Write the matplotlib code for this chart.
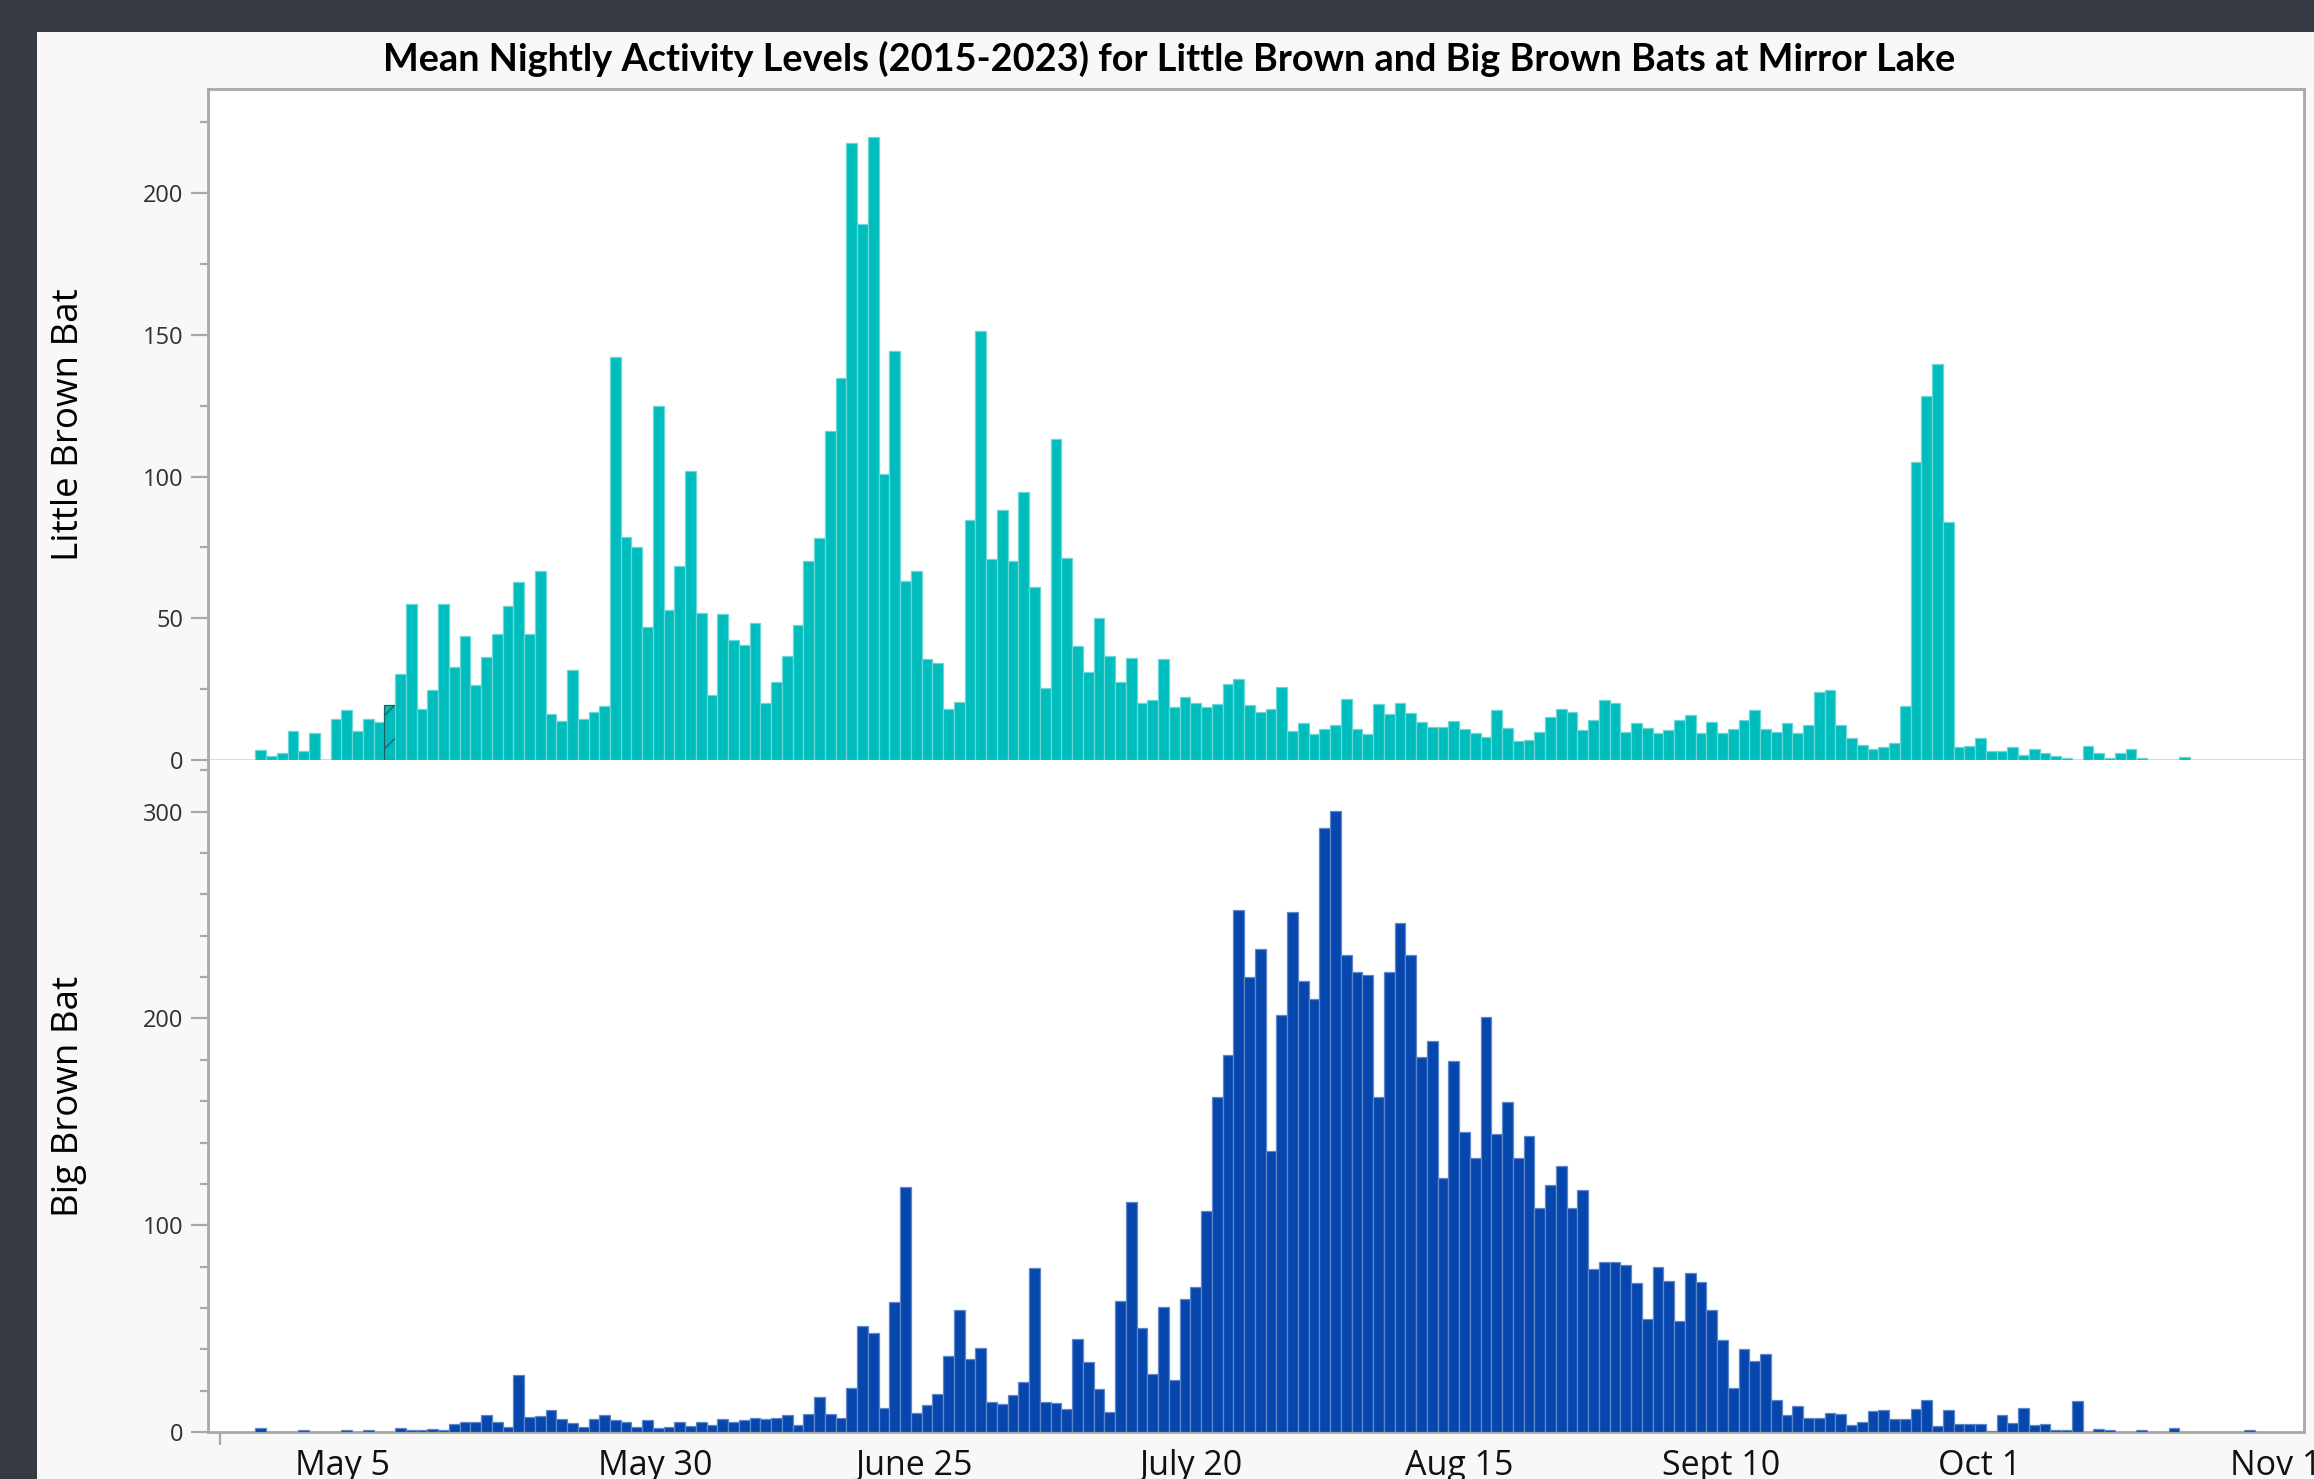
import numpy as np
import matplotlib
matplotlib.use('Agg')
import matplotlib.pyplot as plt
from matplotlib.patches import Rectangle
from matplotlib.ticker import MultipleLocator

# mean nightly passes per night, one value per night starting late April
little_brown = [
    3.4, 1.5, 2.5, 10.2, 3.2, 9.5, 0, 14.6, 17.5, 10.2,
    14.3, 13.4, 19.4, 30.2, 55.2, 18.0, 24.8, 55.2, 32.9, 43.8,
    26.6, 36.2, 44.3, 54.4, 62.8, 44.3, 66.8, 16.4, 13.6, 31.7,
    14.3, 17.1, 19.0, 142.0, 78.6, 75.2, 47.0, 124.9, 53.0, 68.4,
    101.8, 51.9, 23.1, 51.4, 42.4, 40.5, 48.2, 20.0, 27.5, 36.8,
    47.5, 70.1, 78.2, 116.2, 134.7, 217.7, 189.2, 219.6, 100.8, 144.4,
    63.3, 66.5, 35.8, 34.3, 18.0, 20.5, 84.7, 151.2, 70.9, 88.1,
    70.1, 94.7, 60.9, 25.3, 113.2, 71.3, 40.2, 31.0, 50.0, 36.8,
    27.5, 36.1, 20.2, 21.2, 35.8, 18.7, 22.4, 20.2, 18.6, 19.7,
    26.7, 28.5, 19.3, 16.8, 18.0, 25.9, 10.2, 13.2, 9.0, 10.8,
    12.2, 21.4, 11.0, 9.2, 19.9, 16.4, 20.2, 16.6, 13.4, 11.8,
    11.6, 13.6, 10.8, 9.4, 8.0, 17.5, 11.4, 6.6, 7.2, 9.8,
    15.1, 18.1, 17.0, 10.6, 14.2, 21.1, 20.2, 10.0, 13.0, 11.4,
    9.6, 10.6, 14.2, 16.0, 9.4, 13.4, 9.6, 11.0, 14.2, 17.5,
    10.8, 10.0, 13.0, 9.6, 12.4, 23.9, 24.7, 12.2, 7.6, 5.3,
    3.9, 4.5, 6.0, 19.2, 105.0, 128.5, 139.7, 84.1, 4.7, 5.1,
    7.8, 3.3, 3.3, 4.5, 1.8, 3.9, 2.5, 1.3, 0.7, 0,
    4.8, 2.4, 0.7, 2.5, 3.9, 0.7, 0, 0, 0, 0.9,
]

big_brown = [
    2.0, 0, 0, 0, 1.1, 0, 0, 0, 1.1, 0,
    1.1, 0, 0, 2.1, 1.1, 1.1, 1.6, 1.1, 3.8, 4.9,
    4.9, 8.2, 4.6, 2.5, 27.4, 7.4, 7.9, 10.7, 6.1, 4.4,
    2.5, 6.1, 8.2, 5.7, 4.6, 2.5, 5.7, 2.1, 2.5, 4.6,
    3.0, 4.6, 3.6, 6.1, 4.9, 5.6, 6.8, 6.4, 6.9, 8.2,
    3.6, 8.7, 16.7, 8.7, 6.7, 21.5, 51.5, 47.9, 11.5, 62.8,
    118.3, 9.1, 13.1, 18.2, 36.8, 59.2, 35.5, 40.4, 14.6, 13.3,
    17.7, 24.2, 79.2, 14.6, 14.2, 10.9, 45.1, 34.0, 20.9, 9.6,
    63.3, 111.4, 50.4, 28.2, 60.5, 25.3, 64.2, 70.3, 107.0, 162.0,
    182.5, 252.6, 220.2, 233.4, 136.0, 201.7, 251.7, 218.1, 209.2, 291.9,
    300.4, 230.9, 222.7, 220.8, 161.9, 222.7, 246.4, 230.9, 181.3, 189.2,
    123.0, 179.5, 145.1, 132.3, 200.5, 144.1, 159.6, 132.3, 143.1, 108.5,
    119.3, 128.6, 108.5, 117.2, 78.6, 82.3, 82.1, 80.6, 71.9, 54.8,
    79.6, 73.0, 53.8, 77.1, 72.4, 58.9, 44.5, 21.4, 40.0, 34.5,
    37.7, 15.4, 8.1, 12.5, 6.8, 6.8, 9.2, 8.9, 3.2, 4.9,
    10.0, 10.5, 6.5, 6.5, 11.3, 15.4, 2.8, 10.5, 4.0, 4.0,
    4.0, 0.3, 8.1, 4.4, 11.7, 3.2, 4.0, 1.1, 1.1, 15.0,
    0, 1.6, 0.8, 0, 0, 1.1, 0, 0, 1.9, 0,
    0, 0, 0, 0, 0, 1.1,
]

date_labels = ['May 5', 'May 30', 'June 25', 'July 20', 'Aug 15', 'Sept 10', 'Oct 1', 'Nov 1']
date_pos = [7.6, 36.7, 60.8, 86.6, 111.5, 135.9, 159.9, 187.5]

TEAL = '#00bdbd'
BLUE = '#0747ad'
FRAME = '#a8a8a8'

W, H = 2314, 1479
fig = plt.figure(figsize=(W / 100, H / 100), dpi=100)
fig.patch.set_facecolor('#363a42')
fig.patches.append(Rectangle((37 / W, 0), 1, 1 - 32 / H, transform=fig.transFigure,
                             facecolor='#f8f8f8', edgecolor='none', zorder=-10))

left, right = 208 / W, 2304 / W
y_top, y_mid, y_bot = 1 - 89 / H, 1 - 760 / H, 1 - 1432 / H
ax1 = fig.add_axes([left, y_mid, right - left, y_top - y_mid])
ax2 = fig.add_axes([left, y_bot, right - left, y_mid - y_bot])

x1 = np.arange(len(little_brown))
x2 = np.arange(len(big_brown))

bars1 = ax1.bar(x1, little_brown, width=1.0, color=TEAL, edgecolor='#6cd6d6', linewidth=0.9, zorder=3)
ax2.bar(x2, big_brown, width=1.0, color=BLUE, edgecolor='#5d87c9', linewidth=0.9, zorder=3)
ax1.axhline(0, color='#d8d8d8', lw=2, zorder=2)

# the one night flagged with a dark hatch
bars1[12].set_hatch('/')
bars1[12].set_edgecolor('#1f5f62')

for ax in (ax1, ax2):
    ax.set_xlim(-4.9, 190.1)
    ax.set_facecolor('white')
    for s in ax.spines.values():
        s.set_color(FRAME)
        s.set_linewidth(2)
    ax.tick_params(axis='y', which='major', length=12, width=1.6, color=FRAME,
                   labelsize=17, labelcolor='#303030', pad=6)
    ax.tick_params(axis='y', which='minor', length=6, width=1.6, color=FRAME)

ax1.spines['bottom'].set_visible(False)
ax2.spines['top'].set_visible(False)

ax1.set_ylim(0, 236.7)
ax1.yaxis.set_major_locator(MultipleLocator(50))
ax1.yaxis.set_minor_locator(MultipleLocator(25))
ax1.set_xticks([])

ax2.set_ylim(0, 325)
ax2.yaxis.set_major_locator(MultipleLocator(100))
ax2.yaxis.set_minor_locator(MultipleLocator(20))
ax2.set_xticks(date_pos)
ax2.set_xticklabels(date_labels, fontsize=24.5, fontfamily='Open Sans', color='#111111')
ax2.tick_params(axis='x', which='major', length=0, pad=12)
ax2.set_xticks([-3.8], minor=True)
ax2.tick_params(axis='x', which='minor', length=9, width=1.6, color=FRAME)

for ax in (ax1, ax2):
    for lab in ax.get_yticklabels():
        lab.set_fontfamily('Open Sans')

ax1.set_ylabel('Little Brown Bat', fontsize=26.5, fontfamily='Open Sans')
ax2.set_ylabel('Big Brown Bat', fontsize=26.5, fontfamily='Open Sans')
label_x = (69 - 208) / 2096
ax1.yaxis.set_label_coords(label_x, 0.5)
ax2.yaxis.set_label_coords(label_x, 0.5)
ax1.yaxis.label.set_va('center')
ax2.yaxis.label.set_va('center')

fig.text(1169 / W, 1 - 59 / H, 'Mean Nightly Activity Levels (2015-2023) for Little Brown and Big Brown Bats at Mirror Lake',
         ha='center', va='center', fontsize=27.3, fontweight='bold', fontfamily='Lato', color='black')

fig.savefig('out.png', dpi=100, facecolor=fig.get_facecolor())
